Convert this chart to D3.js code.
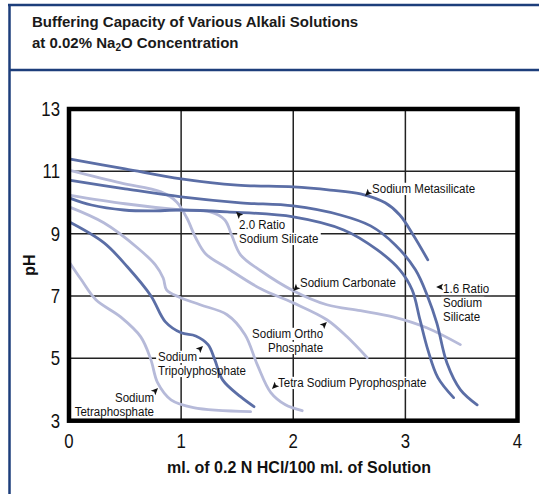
<!DOCTYPE html>
<html lang="en">
<head>
  <meta charset="UTF-8">
  <title>Buffering Capacity of Various Alkali Solutions</title>
  <script src="https://d3js.org/d3.v7.min.js"></script>
  <style>
    body { margin: 0; background: white; }
    svg { display: block; }
    .narrow { font-family: "Liberation Sans", Arial, Helvetica, sans-serif; }
    .bold { font-family: "Liberation Sans", Arial, Helvetica, sans-serif; font-weight: bold; }
  </style>
</head>
<body>
  <div id="chart"></div>

  <script>
    // axis ticks
    const xTicks = [0, 1, 2, 3, 4];
    const yTicks = [3, 5, 7, 9, 11, 13];

    // curves: [ml HCl, pH]
    const metasilicate = [[0, 11.40], [0.5, 11.08], [1.0, 10.76], [1.5, 10.56], [2.0, 10.50], [2.33, 10.40],
      [2.6, 10.28], [2.82, 9.99], [2.95, 9.60], [3.07, 8.96], [3.2, 8.16]];
    const ratio16 = [[0, 10.72], [0.5, 10.44], [1.0, 10.18], [1.53, 9.99], [2.0, 9.89], [2.42, 9.60], [2.69, 9.25],
      [2.91, 8.64], [3.09, 7.84], [3.2, 6.97], [3.28, 6.14], [3.37, 4.86], [3.49, 4.0], [3.64, 3.51]];
    const ratio20 = [[0, 10.15], [0.2, 9.92], [0.49, 9.76], [0.73, 9.73], [1.0, 9.76], [1.41, 9.70], [2.0, 9.54],
      [2.45, 9.12], [2.75, 8.48], [2.95, 7.84], [3.06, 7.2], [3.13, 6.24], [3.2, 5.28], [3.29, 4.38], [3.43, 3.74]];
    const tripoly = [[0, 9.38], [0.31, 8.71], [0.52, 7.94], [0.73, 7.01], [0.86, 6.17], [1.0, 5.82], [1.13, 5.72],
      [1.24, 5.44], [1.30, 4.96], [1.37, 4.31], [1.53, 3.77], [1.65, 3.45]];
    const ortho = [[0, 11.04], [0.46, 10.63], [0.82, 10.34], [0.96, 10.02], [1.05, 9.51], [1.13, 8.87], [1.22, 8.35],
      [1.41, 7.90], [1.71, 7.23], [2.0, 6.78], [2.30, 6.24], [2.48, 5.69], [2.66, 5.02]];
    const carbonate = [[0, 10.24], [0.5, 9.96], [1.0, 9.76], [1.26, 9.70], [1.39, 9.44], [1.45, 8.96], [1.53, 8.32],
      [1.71, 7.81], [2.0, 7.17], [2.30, 6.72], [2.60, 6.53], [2.89, 6.33], [3.19, 5.98], [3.49, 5.44]];
    const pyro = [[0, 9.86], [0.31, 9.35], [0.61, 8.55], [0.77, 8.0], [0.84, 7.58], [0.87, 7.2], [0.98, 6.97],
      [1.17, 6.72], [1.41, 6.40], [1.57, 5.76], [1.68, 4.79], [1.80, 3.90], [1.93, 3.51], [2.08, 3.32]];
    const tetra = [[0, 8.10], [0.11, 7.52], [0.24, 6.88], [0.46, 6.33], [0.64, 5.69], [0.73, 4.96], [0.79, 4.22],
      [0.91, 3.67], [1.11, 3.42], [1.62, 3.29]];

    const darkSeries = [metasilicate, ratio16, ratio20, tripoly];
    const lightSeries = [ortho, carbonate, pyro, tetra];

    // labels: text anchor (x, y) and arrow tip, in data units; dir = arrow direction in degrees
    const labelText = [
      ["Sodium Metasilicate"],
      ["2.0 Ratio", "Sodium Silicate"],
      ["Sodium Carbonate"],
      ["1.6 Ratio", "Sodium", "Silicate"],
      ["Sodium Ortho", "Phosphate"],
      ["Sodium", "Tripolyphosphate"],
      ["Sodium", "Tetraphosphate"],
      ["Tetra Sodium Pyrophosphate"]
    ];
    const labelX = [2.703, 1.517, 2.06, 3.336, 2.266, 0.794, 0.758, 1.864];
    const labelY = [10.305, 9.15, 7.29, 7.097, 5.653, 4.915, 3.60, 4.08];
    const labelAnchor = ["start", "start", "start", "start", "end", "start", "end", "start"];
    const arrowX = [2.64, 1.49, 2.0, 3.274, 2.30, 1.195, 0.794, 1.81];
    const arrowY = [10.21, 9.70, 7.16, 7.29, 6.17, 5.40, 4.05, 4.02];
    const arrowDir = [135, -135, 135, 180, -45, -45, -45, 135];

    const W = 539, H = 494;
    const frameBlue = "#1d3e7b";
    const darkColor = "#5b6ea6";
    const lightColor = "#b6bad9";
    const squeeze = 0.84;      // condensed look for the tick numbers
    const labelSqueeze = 0.96; // and a touch for the curve labels
    const lineGap = 14;

    const svg = d3.select("#chart").append("svg")
      .attr("width", W)
      .attr("height", H);

    // outer panel border
    svg.append("line").attr("x1", 8).attr("x2", W).attr("y1", 5).attr("y2", 5)
      .attr("stroke", frameBlue).attr("stroke-width", 2.5);
    svg.append("line").attr("x1", 9.5).attr("x2", 9.5).attr("y1", 4).attr("y2", H)
      .attr("stroke", frameBlue).attr("stroke-width", 2.5);
    svg.append("line").attr("x1", 9).attr("x2", W).attr("y1", 70).attr("y2", 70)
      .attr("stroke", frameBlue).attr("stroke-width", 2.5);

    // title
    svg.append("text").attr("class", "bold").attr("x", 32).attr("y", 27)
      .attr("font-size", 15).attr("fill", "#1a1a1a")
      .text("Buffering Capacity of Various Alkali Solutions");
    const t2 = svg.append("text").attr("class", "bold").attr("x", 32).attr("y", 48)
      .attr("font-size", 15).attr("fill", "#1a1a1a");
    t2.append("tspan").text("at 0.02% Na");
    t2.append("tspan").attr("font-size", 10).attr("dy", 3).text("2");
    t2.append("tspan").attr("dy", -3).text("O Concentration");

    const x = d3.scaleLinear().domain([0, 4]).range([69, 517.5]);
    const y = d3.scaleLinear().domain([3, 13]).range([420.7, 109]);

    // grid
    svg.append("g").selectAll("line").data(xTicks).join("line")
      .attr("x1", d => x(d)).attr("x2", d => x(d))
      .attr("y1", y(13)).attr("y2", y(3))
      .attr("stroke", "#222").attr("stroke-width", 1.5);
    svg.append("g").selectAll("line").data(yTicks).join("line")
      .attr("x1", x(0)).attr("x2", x(4))
      .attr("y1", d => y(d)).attr("y2", d => y(d))
      .attr("stroke", "#222").attr("stroke-width", 1.5);

    // tick labels, squeezed horizontally
    svg.append("g").selectAll("g").data(xTicks).join("g")
      .attr("transform", d => `translate(${x(d)},448) scale(${squeeze},1)`)
      .append("text")
      .attr("class", "narrow")
      .attr("text-anchor", "middle").attr("font-size", 20).attr("fill", "#111")
      .text(d => d);
    svg.append("g").selectAll("g").data(yTicks).join("g")
      .attr("transform", d => `translate(60,${y(d) + 7}) scale(${squeeze},1)`)
      .append("text")
      .attr("class", "narrow")
      .attr("text-anchor", "end").attr("font-size", 20).attr("fill", "#111")
      .text(d => d);

    // axis titles
    svg.append("text").attr("class", "bold")
      .attr("transform", "translate(35,265) rotate(-90)")
      .attr("text-anchor", "middle").attr("font-size", 16).attr("fill", "#111")
      .text("pH");
    svg.append("text").attr("class", "bold")
      .attr("x", 299).attr("y", 473)
      .attr("text-anchor", "middle").attr("font-size", 16).attr("fill", "#111")
      .text("ml. of 0.2 N HCl/100 ml. of Solution");

    const bgLayer = svg.append("g");
    const curveLayer = svg.append("g");
    const labelLayer = svg.append("g");

    const line = d3.line()
      .x(d => x(d[0]))
      .y(d => y(d[1]))
      .curve(d3.curveCatmullRom.alpha(0.5));

    curveLayer.selectAll(".light").data(lightSeries).join("path")
      .attr("class", "light")
      .attr("d", line)
      .attr("fill", "none").attr("stroke", lightColor).attr("stroke-width", 2.8)
      .attr("stroke-linecap", "round");
    curveLayer.selectAll(".dark").data(darkSeries).join("path")
      .attr("class", "dark")
      .attr("d", line)
      .attr("fill", "none").attr("stroke", darkColor).attr("stroke-width", 2.8)
      .attr("stroke-linecap", "round");

    // curve labels: one text per line, white backing, small arrowheads
    labelText.forEach((lines, i) => {
      lines.forEach((s, j) => {
        const tx = x(labelX[i]), ty = y(labelY[i]) + j * lineGap;
        const g = labelLayer.append("g")
          .attr("transform", `translate(${tx},${ty}) scale(${labelSqueeze},1)`);
        const txt = g.append("text")
          .attr("class", "narrow")
          .attr("text-anchor", labelAnchor[i])
          .attr("font-size", 12).attr("fill", "#111")
          .text(s);
        const bb = txt.node().getBBox();
        bgLayer.append("rect")
          .attr("transform", `translate(${tx},${ty}) scale(${labelSqueeze},1)`)
          .attr("x", bb.x - 2).attr("y", bb.y + 1)
          .attr("width", bb.width + 4).attr("height", bb.height - 1)
          .attr("fill", "white");
      });

      labelLayer.append("path")
        .attr("d", "M0,0 L-7,-3.2 L-5.5,0 L-7,3.2 Z")
        .attr("transform", `translate(${x(arrowX[i])},${y(arrowY[i])}) rotate(${arrowDir[i]})`)
        .attr("fill", "#111");
    });

    // heavy plot frame
    svg.append("rect")
      .attr("x", x(0)).attr("y", y(13))
      .attr("width", x(4) - x(0)).attr("height", y(3) - y(13))
      .attr("fill", "none").attr("stroke", "#000").attr("stroke-width", 4.5);
  </script>
</body>
</html>
